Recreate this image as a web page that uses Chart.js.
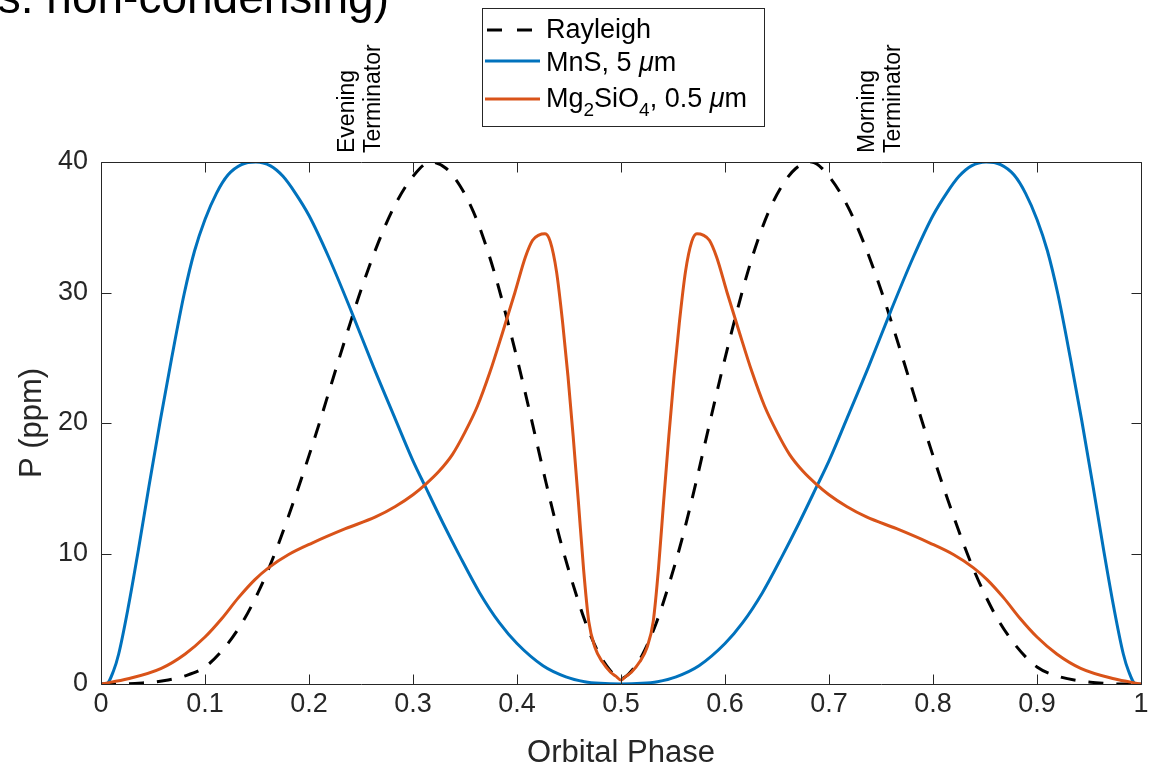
<!DOCTYPE html>
<html>
<head>
<meta charset="utf-8">
<script src="https://cdn.jsdelivr.net/npm/chart.js@4.4.1/dist/chart.umd.min.js"></script>
<style>
  html, body { margin: 0; padding: 0; background: #fff; }
  #wrap { width: 1157px; height: 770px; position: relative; }
</style>
</head>
<body>
<div id="wrap"><canvas id="c" width="1157" height="770"></canvas></div>
<script>
// Polarized phase curves, P (ppm) against orbital phase
const rayleighPhase = [0, 0.02, 0.04, 0.06, 0.08, 0.10, 0.12, 0.138, 0.151, 0.16, 0.17, 0.18, 0.19, 0.20, 0.21, 0.22, 0.23, 0.241, 0.25, 0.267, 0.282, 0.30, 0.317, 0.332, 0.345, 0.358, 0.368, 0.378, 0.39, 0.402, 0.415, 0.428, 0.441, 0.454, 0.466, 0.479, 0.49, 0.495, 0.5,
  0.505, 0.51, 0.521, 0.534, 0.546, 0.559, 0.572, 0.585, 0.598, 0.61, 0.622, 0.632, 0.642, 0.655, 0.668, 0.683, 0.70, 0.718, 0.733, 0.75, 0.759, 0.77, 0.78, 0.79, 0.80, 0.81, 0.82, 0.83, 0.84, 0.849, 0.862, 0.88, 0.90, 0.92, 0.94, 0.96, 0.98, 1.0];
const rayleighP = [0, 0, 0.08, 0.25, 0.6, 1.3, 2.9, 5.0, 7.0, 8.6, 10.6, 12.8, 15.1, 17.5, 20.0, 22.6, 25.2, 28.0, 30.2, 33.9, 36.6, 38.9, 40.0, 39.5, 38.2, 36.2, 34.1, 31.6, 28.1, 24.3, 19.9, 15.4, 11.2, 7.6, 4.7, 2.3, 1.0, 0.6, 0.4,
  0.6, 1.0, 2.3, 4.7, 7.6, 11.2, 15.4, 19.9, 24.3, 28.1, 31.6, 34.1, 36.2, 38.2, 39.5, 40.0, 38.9, 36.6, 33.9, 30.2, 28.0, 25.2, 22.6, 20.0, 17.5, 15.1, 12.8, 10.6, 8.6, 7.0, 5.0, 2.9, 1.3, 0.6, 0.25, 0.08, 0, 0];

const mnsPhase = [0, 0.005, 0.012, 0.017, 0.026, 0.036, 0.046, 0.057, 0.068, 0.080, 0.090, 0.100, 0.111, 0.122, 0.135, 0.149, 0.163, 0.175, 0.187, 0.200, 0.219, 0.241, 0.262, 0.283, 0.300, 0.312, 0.329, 0.345, 0.364, 0.383, 0.400, 0.425, 0.447, 0.465, 0.480, 0.5,
  0.52, 0.535, 0.553, 0.575, 0.600, 0.617, 0.636, 0.655, 0.671, 0.688, 0.700, 0.717, 0.738, 0.759, 0.781, 0.800, 0.813, 0.825, 0.837, 0.851, 0.865, 0.878, 0.889, 0.900, 0.910, 0.920, 0.932, 0.943, 0.954, 0.964, 0.974, 0.983, 0.988, 0.995, 1.0];
const mnsP = [0, 0, 1.0, 2.3, 5.8, 10.3, 15.1, 20.2, 25.0, 29.9, 33.2, 35.6, 37.6, 39.0, 39.8, 40.0, 39.7, 38.9, 37.6, 35.9, 32.7, 28.5, 24.3, 20.3, 17.1, 15.1, 12.3, 9.8, 7.0, 4.7, 3.1, 1.4, 0.55, 0.18, 0.05, 0,
  0.05, 0.18, 0.55, 1.4, 3.1, 4.7, 7.0, 9.8, 12.3, 15.1, 17.1, 20.3, 24.3, 28.5, 32.7, 35.9, 37.6, 38.9, 39.7, 40.0, 39.8, 39.0, 37.6, 35.6, 33.2, 29.9, 25.0, 20.2, 15.1, 10.3, 5.8, 2.3, 1.0, 0, 0];

const mgPhase = [0, 0.026, 0.058, 0.081, 0.100, 0.116, 0.132, 0.148, 0.161, 0.180, 0.203, 0.235, 0.264, 0.283, 0.300, 0.312, 0.325, 0.338, 0.350, 0.362, 0.374, 0.386, 0.398, 0.408, 0.415, 0.421, 0.427, 0.432, 0.438, 0.444, 0.449, 0.454, 0.459, 0.464, 0.469, 0.475, 0.482, 0.490, 0.495, 0.5,
  0.505, 0.510, 0.518, 0.525, 0.531, 0.536, 0.541, 0.546, 0.551, 0.556, 0.562, 0.568, 0.573, 0.579, 0.585, 0.592, 0.602, 0.614, 0.626, 0.638, 0.650, 0.662, 0.675, 0.688, 0.700, 0.717, 0.736, 0.765, 0.797, 0.820, 0.839, 0.852, 0.868, 0.884, 0.900, 0.919, 0.942, 0.974, 1.0];
const mgP = [0, 0.4, 1.2, 2.3, 3.6, 5.0, 6.6, 8.0, 8.9, 9.9, 10.8, 11.9, 12.8, 13.6, 14.5, 15.3, 16.3, 17.6, 19.3, 21.3, 23.9, 26.9, 30.0, 32.7, 34.0, 34.4, 34.5, 33.9, 31.6, 27.6, 23.6, 19.0, 14.0, 8.8, 4.8, 2.8, 1.7, 0.9, 0.6, 0.3,
  0.6, 0.9, 1.7, 2.8, 4.8, 8.8, 14.0, 19.0, 23.6, 27.6, 31.6, 33.9, 34.5, 34.4, 34.0, 32.7, 30.0, 26.9, 23.9, 21.3, 19.3, 17.6, 16.3, 15.3, 14.5, 13.6, 12.8, 11.9, 10.8, 9.9, 8.9, 8.0, 6.6, 5.0, 3.6, 2.3, 1.2, 0.4, 0];

const xTicks = [0, 0.1, 0.2, 0.3, 0.4, 0.5, 0.6, 0.7, 0.8, 0.9, 1];
const yTicks = [0, 10, 20, 30, 40];
const terminators = [
  { phase: 0.25, lines: ['Evening', 'Terminator'] },
  { phase: 0.75, lines: ['Morning', 'Terminator'] }
];

const FONT = '"Liberation Sans", Arial, Helvetica, sans-serif';
const AXIS_COLOR = '#262626';
const BLUE = '#0072BD';
const ORANGE = '#D95319';

function pts(xs, ys) { return xs.map((x, i) => ({ x, y: ys[i] })); }

// Box around the axes with inward ticks on all four sides
const boxPlugin = {
  id: 'box',
  afterDatasetsDraw(chart) {
    const { ctx, chartArea: a, scales: { x, y } } = chart;
    const L = Math.round(a.left) + 0.5, R = Math.round(a.right) + 0.5;
    const T = Math.round(a.top) + 0.5, B = Math.round(a.bottom) + 0.5;
    const tl = 10;
    ctx.save();
    ctx.strokeStyle = AXIS_COLOR;
    ctx.lineWidth = 1;
    ctx.beginPath();
    ctx.rect(L, T, R - L, B - T);
    xTicks.forEach(v => {
      const px = Math.round(x.getPixelForValue(v)) + 0.5;
      ctx.moveTo(px, B); ctx.lineTo(px, B - tl);
      ctx.moveTo(px, T); ctx.lineTo(px, T + tl);
    });
    yTicks.forEach(v => {
      const py = Math.round(y.getPixelForValue(v)) + 0.5;
      ctx.moveTo(L, py); ctx.lineTo(L + tl, py);
      ctx.moveTo(R, py); ctx.lineTo(R - tl, py);
    });
    ctx.stroke();
    ctx.restore();
  }
};

// Draw a run of text pieces, with optional subscripts and italics
function drawRich(ctx, x, y, parts, size) {
  let cx = x;
  parts.forEach(p => {
    const fs = p.sub ? Math.round(size * 0.72) : size;
    ctx.font = (p.it ? 'italic ' : '') + fs + 'px ' + FONT;
    ctx.fillText(p.t, cx, p.sub ? y + 9 : y);
    cx += ctx.measureText(p.t).width;
  });
}

const annotationPlugin = {
  id: 'annotations',
  afterDraw(chart) {
    const { ctx, chartArea: a, scales: { x } } = chart;
    ctx.save();
    // title, running off the left edge
    ctx.fillStyle = '#000';
    ctx.font = '46px ' + FONT;
    ctx.textAlign = 'right';
    ctx.textBaseline = 'alphabetic';
    ctx.fillText('s. non-condensing)', 389, 13);

    // terminator labels, rotated
    ctx.font = '23px ' + FONT;
    ctx.textAlign = 'left';
    ctx.textBaseline = 'middle';
    terminators.forEach(t => {
      const px = x.getPixelForValue(t.phase);
      ctx.save();
      ctx.translate(px, a.top - 9);
      ctx.rotate(-Math.PI / 2);
      const gap = 26;
      t.lines.forEach((s, i) => {
        ctx.fillText(s, 0, (i - (t.lines.length - 1) / 2) * gap);
      });
      ctx.restore();
    });

    // legend
    const bx = 482.5, by = 8.5, bw = 282, bh = 118;
    ctx.fillStyle = '#fff';
    ctx.fillRect(bx, by, bw, bh);
    ctx.strokeStyle = AXIS_COLOR;
    ctx.lineWidth = 1;
    ctx.strokeRect(bx, by, bw, bh);

    const rows = [
      { color: '#000', dash: [15, 15], lineY: 30, baseY: 38, parts: [{ t: 'Rayleigh' }] },
      { color: BLUE, dash: [], lineY: 61, baseY: 71, parts: [{ t: 'MnS, 5 ' }, { t: 'μ', it: true }, { t: 'm' }] },
      { color: ORANGE, dash: [], lineY: 99, baseY: 107, parts: [{ t: 'Mg' }, { t: '2', sub: true }, { t: 'SiO' }, { t: '4', sub: true }, { t: ', 0.5 ' }, { t: 'μ', it: true }, { t: 'm' }] }
    ];
    rows.forEach(r => {
      ctx.save();
      ctx.strokeStyle = r.color;
      ctx.lineWidth = 3;
      ctx.setLineDash(r.dash);
      ctx.lineDashOffset = r.dash.length ? -2 : 0;
      ctx.beginPath();
      ctx.moveTo(485, r.lineY);
      ctx.lineTo(540, r.lineY);
      ctx.stroke();
      ctx.restore();
      ctx.fillStyle = '#000';
      ctx.textAlign = 'left';
      ctx.textBaseline = 'alphabetic';
      drawRich(ctx, 546, r.baseY, r.parts, 27);
    });
    ctx.restore();
  }
};

Chart.defaults.font.family = FONT;
Chart.defaults.color = AXIS_COLOR;

new Chart(document.getElementById('c'), {
  type: 'line',
  data: {
    datasets: [
      { label: 'Rayleigh', data: pts(rayleighPhase, rayleighP), borderColor: '#000', borderWidth: 3, borderDash: [15, 13], order: 3 },
      { label: 'MnS, 5 μm', data: pts(mnsPhase, mnsP), borderColor: BLUE, borderWidth: 3, order: 2 },
      { label: 'Mg2SiO4, 0.5 μm', data: pts(mgPhase, mgP), borderColor: ORANGE, borderWidth: 3, order: 1 }
    ]
  },
  options: {
    responsive: false,
    animation: false,
    devicePixelRatio: 1,
    layout: { padding: { top: 162, right: 16, bottom: 0, left: 0 } },
    elements: {
      point: { radius: 0, hoverRadius: 0 },
      line: { cubicInterpolationMode: 'monotone', fill: false, borderCapStyle: 'butt', borderJoinStyle: 'round' }
    },
    plugins: { legend: { display: false }, tooltip: { enabled: false } },
    scales: {
      x: {
        type: 'linear', min: 0, max: 1,
        afterBuildTicks: s => { s.ticks = xTicks.map(v => ({ value: v })); },
        afterFit: s => { s.height = 86; },
        grid: { display: false, drawTicks: false },
        border: { display: false },
        ticks: { font: { size: 27 }, color: AXIS_COLOR, padding: 4, maxRotation: 0, autoSkip: false,
          callback: v => String(Number(v.toFixed(1))) },
        title: { display: true, text: 'Orbital Phase', font: { size: 31 }, color: AXIS_COLOR, padding: { top: 0, bottom: -2 } }
      },
      y: {
        type: 'linear', min: 0, max: 40,
        afterBuildTicks: s => { s.ticks = yTicks.map(v => ({ value: v })); },
        afterFit: s => { s.width = 101; },
        grid: { display: false, drawTicks: false },
        border: { display: false },
        ticks: { font: { size: 27 }, color: AXIS_COLOR, padding: 13, autoSkip: false },
        title: { display: true, text: 'P (ppm)', font: { size: 31 }, color: AXIS_COLOR, padding: { top: 14, bottom: 0 } }
      }
    }
  },
  plugins: [boxPlugin, annotationPlugin]
});
</script>
</body>
</html>
